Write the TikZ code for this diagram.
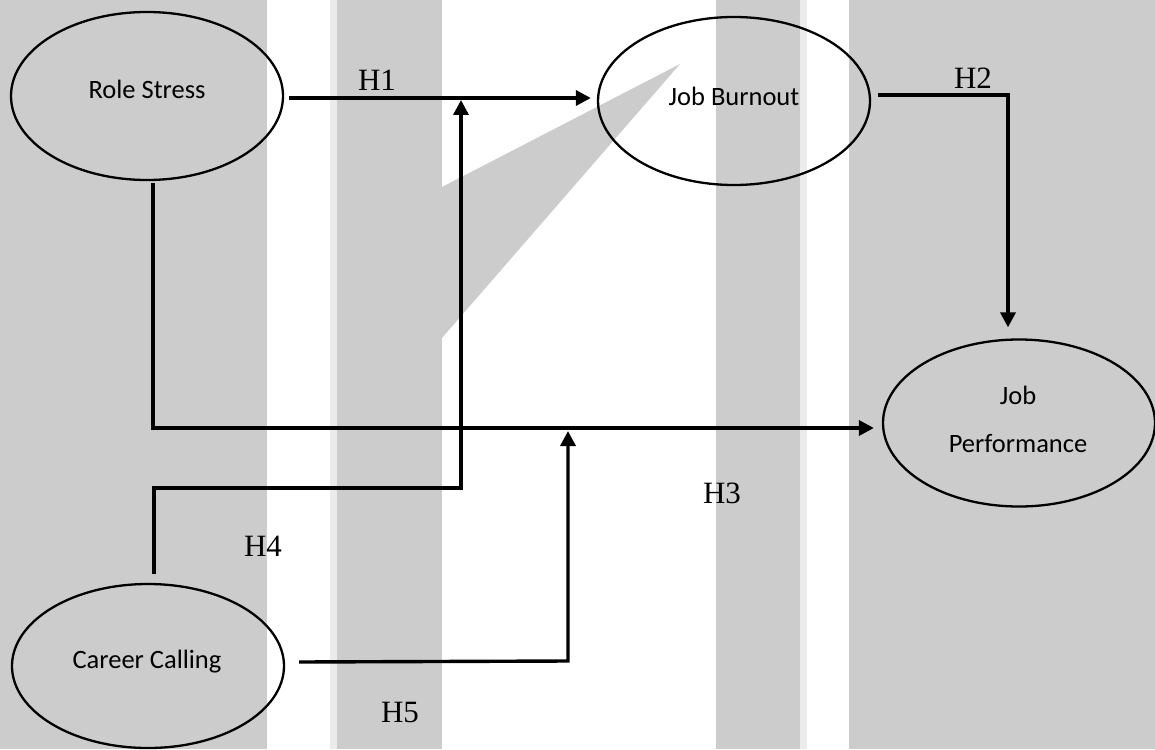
\documentclass[tikz,border=0pt]{standalone}
\usepackage{fontspec}
\setmainfont{Liberation Serif}
\newfontfamily\carl{Carlito}
\usetikzlibrary{shapes.geometric,arrows.meta,calc}
\definecolor{stripegray}{HTML}{CCCCCC}
\definecolor{stripelight}{HTML}{EBEBEB}
\begin{document}
\begin{tikzpicture}[x=1pt,y=-1pt,
  bubble/.style={ellipse,draw,line width=2.3pt,minimum width=272pt,minimum height=168pt,inner sep=0pt},
  lbl/.style={font=\carl\fontsize{26.5}{48}\selectfont,align=center,inner sep=0pt},
  hyp/.style={font=\fontsize{31}{36}\selectfont,inner sep=0pt},
  conn/.style={line width=3.4pt},
  arr/.style={conn,-{Triangle[length=15pt,width=15pt]}}]
\useasboundingbox (0,0) rectangle (1155,749);
% background stripes
\fill[white] (0,0) rectangle (1155,749);
\fill[stripegray] (0,0) rectangle (267,749);
\fill[stripelight] (330,0) rectangle (337,749);
\fill[stripegray] (337,0) rectangle (442,749);
\fill[stripegray] (716,0) rectangle (800,749);
\fill[stripelight] (800,0) rectangle (807,749);
\fill[stripegray] (849,0) rectangle (1155,749);
\fill[stripegray] (442,187) -- (680,64) -- (442,338) -- cycle;
% ellipses
\node[bubble] (rs) at (147,96) {};
\node[bubble] (jb) at (734,101) {};
\node[bubble,minimum height=167pt] (jp) at (1019,423) {};
\node[bubble,minimum height=164pt] (cc) at (148,666) {};
\node[lbl] (rst) at (147,89) {Role Stress};
\node[lbl] (jbt) at (734,96) {Job Burnout};
\node[lbl] (jpt) at (1018,419) {Job\\Performance};
\node[lbl] (cct) at (147,662) {Career Calling};
% connectors
\draw[arr] ($(rs.east)+(5,2)$) -- ($(jb.west)+(-6,-3)$);
\draw[arr] ($(jb.east)+(7,-6)$) -| ($(jp.north)+(-11,-11)$);
\draw[arr] ($(rs.south)+(6,2)$) |- ($(jp.west)+(-8,5)$);
\coordinate (j4) at (461,488);
\coordinate (t4) at (461,100);
\draw[arr] ($(cc.north)+(6,-9)$) |- (j4) -- (t4);
\coordinate (j5) at (568,661);
\coordinate (t5) at (568,431);
\draw[arr] ($(cc.east)+(14,-4)$) -- (j5) -- (t5);
% hypothesis labels
\node[hyp] (h1) at (377,80) {H1};
\node[hyp] (h2) at (973,78) {H2};
\node[hyp] (h3) at (722,493) {H3};
\node[hyp] (h4) at (263,546) {H4};
\node[hyp] (h5) at (400,712) {H5};
\end{tikzpicture}
\end{document}
